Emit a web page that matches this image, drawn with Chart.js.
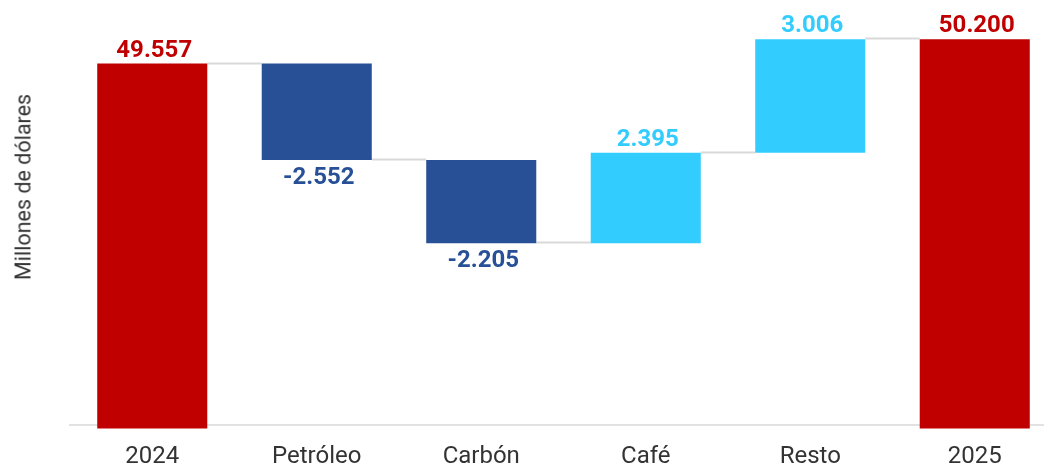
<!DOCTYPE html>
<html>
<head>
<meta charset="utf-8">
<script src="https://cdn.jsdelivr.net/npm/chart.js@4/dist/chart.umd.min.js"></script>
<style>
    html, body { margin: 0; padding: 0; background: #fff; }
    #wrap { position: relative; width: 1044px; height: 465px; overflow: hidden; }
    #yTitle {
        position: absolute; left: 23px; top: 187px;
        transform: translate(-50%, -50%) rotate(-90deg);
        font: 21.5px Roboto, sans-serif; color: #333; white-space: nowrap;
    }
</style>
</head>
<body>
<div id="wrap">
    <canvas id="chartContainer" width="1057" height="490"></canvas>
    <div id="yTitle">Millones de dólares</div>
</div>
<script>
// データ
const categories = ['2024', 'Petróleo', 'Carbón', 'Café', 'Resto', '2025'];
const changes = [49557, -2552, -2205, 2395, 3006, 50200];
const isTotal = [true, false, false, false, false, true];

// 色の設定
const colTotal = '#C00000';
const colDown = '#285096';
const colUp = '#33CCFF';

// 積み上げ（浮動バー）の計算
const ranges = [];
const levels = [];
let running = 0;
changes.forEach((v, i) => {
    if (isTotal[i]) {
        ranges.push([0, v]);
        running = v;
    } else {
        ranges.push([running, running + v]);
        running += v;
    }
    levels.push(running);
});

const barColors = changes.map((v, i) => isTotal[i] ? colTotal : (v < 0 ? colDown : colUp));

// 3桁区切り（ピリオド）
function fmt(v) {
    const s = Math.abs(v).toString().replace(/\B(?=(\d{3})+(?!\d))/g, '.');
    return (v < 0 ? '-' : '') + s;
}

// バー同士をつなぐ線
const connectorPlugin = {
    id: 'connectors',
    beforeDatasetsDraw(chart) {
        const meta = chart.getDatasetMeta(0);
        const y = chart.scales.y;
        const ctx = chart.ctx;
        ctx.save();
        ctx.strokeStyle = '#d9d9d9';
        ctx.lineWidth = 2;
        for (let i = 0; i < meta.data.length - 1; i++) {
            const a = meta.data[i], b = meta.data[i + 1];
            const py = Math.round(y.getPixelForValue(levels[i])) - 0.5;
            ctx.beginPath();
            ctx.moveTo(a.x + a.width / 2, py);
            ctx.lineTo(b.x - b.width / 2, py);
            ctx.stroke();
        }
        ctx.restore();
    }
};

// 値ラベル
const valueLabelPlugin = {
    id: 'valueLabels',
    afterDatasetsDraw(chart) {
        const meta = chart.getDatasetMeta(0);
        const ctx = chart.ctx;
        ctx.save();
        ctx.font = 'bold 24px Roboto';
        ctx.textAlign = 'center';
        ctx.textBaseline = 'alphabetic';
        meta.data.forEach((bar, i) => {
            const v = changes[i];
            ctx.fillStyle = barColors[i];
            const top = Math.min(bar.y, bar.base);
            const bottom = Math.max(bar.y, bar.base);
            if (!isTotal[i] && v < 0) {
                ctx.fillText(fmt(v), bar.x + 2, bottom + 24);
            } else {
                ctx.fillText(fmt(v), bar.x + 2, top - 7);
            }
        });
        ctx.restore();
    }
};

Chart.defaults.font.family = 'Roboto';

const ctx = document.getElementById('chartContainer').getContext('2d');
const chart = new Chart(ctx, {
    type: 'bar',
    data: {
        labels: categories,
        datasets: [{
            data: ranges,
            backgroundColor: barColors,
            borderWidth: 0,
            categoryPercentage: 1,
            barPercentage: 0.669,
            clip: { left: false, top: false, right: false, bottom: 4 }
        }]
    },
    options: {
        responsive: false,
        animation: false,
        layout: { padding: { left: 70, top: 9, right: 0, bottom: 0 } },
        scales: {
            x: {
                z: 1,
                grid: { display: false, drawTicks: false },
                border: { display: true, color: '#e2e2e2', width: 2 },
                ticks: { color: '#333', font: { size: 24 }, padding: 18.3 }
            },
            y: {
                display: false,
                min: 40000,
                max: 51000
            }
        },
        plugins: {
            legend: { display: false },
            tooltip: { enabled: false }
        }
    },
    plugins: [connectorPlugin, valueLabelPlugin]
});
</script>
</body>
</html>
